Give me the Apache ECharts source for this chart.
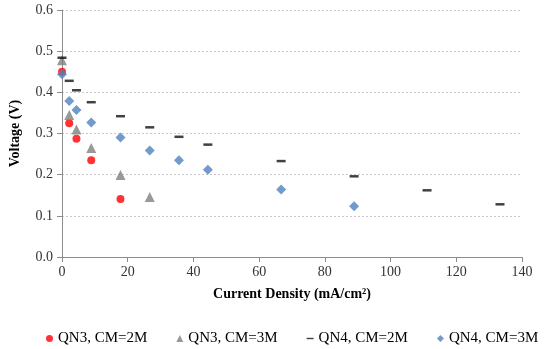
<!DOCTYPE html>
<html><head><meta charset="utf-8">
<script src="https://cdn.jsdelivr.net/npm/echarts@6/dist/echarts.min.js"></script>
<style>html,body{margin:0;padding:0;background:#fff}#c{width:550px;height:349px}</style>
</head><body><div id="c"></div>
<script>
const seriesNames = ['QN3, CM=2M', 'QN3, CM=3M', 'QN4, CM=2M', 'QN4, CM=3M'];
const qn3cm2x = [0, 2.2, 4.4, 8.9, 17.8];
const qn3cm2y = [0.450, 0.325, 0.287, 0.235, 0.141];
const qn3cm3x = [0, 2.2, 4.4, 8.9, 17.8, 26.7];
const qn3cm3y = [0.478, 0.345, 0.310, 0.265, 0.199, 0.146];
const qn4cm2x = [0, 2.2, 4.4, 8.9, 17.8, 26.7, 35.6, 44.4, 66.7, 88.9, 111.1, 133.3];
const qn4cm2y = [0.484, 0.428, 0.405, 0.376, 0.342, 0.315, 0.292, 0.273, 0.233, 0.196, 0.162, 0.128];
const qn4cm3x = [0, 2.2, 4.4, 8.9, 17.8, 26.7, 35.6, 44.4, 66.7, 88.9];
const qn4cm3y = [0.444, 0.379, 0.357, 0.327, 0.290, 0.259, 0.235, 0.212, 0.164, 0.123];
const xTicks = [0, 20, 40, 60, 80, 100, 120, 140];
const yTicks = [0, 0.1, 0.2, 0.3, 0.4, 0.5, 0.6];

function pts(xs, ys){ return xs.map((x,i)=>[x, ys[i]]); }
const font = 'Liberation Serif, Times New Roman, serif';
const chart = echarts.init(document.getElementById('c'));
chart.setOption({
  animation:false,
  grid:{left:60, right:28, top:10, bottom:92},
  legend:{
    bottom:-2, left:41, width:505, itemGap:29, itemWidth:7, itemHeight:7,
    textStyle:{fontFamily:font, fontSize:15, color:'#000'},
    data:[
      {name:seriesNames[0], icon:'circle'},
      {name:seriesNames[1], icon:'triangle'},
      {name:seriesNames[2], icon:'path://M0,0h10v2h-10z'},
      {name:seriesNames[3], icon:'diamond'}
    ]
  },
  xAxis:{
    type:'value', min:xTicks[0], max:xTicks[xTicks.length-1], interval:20,
    name:'Current Density (mA/cm²)', nameLocation:'middle', nameGap:30,
    nameTextStyle:{fontFamily:font, fontSize:14, fontWeight:'bold', color:'#000'},
    axisLine:{show:true, lineStyle:{color:'#8c8c8c'}},
    axisTick:{show:true, length:5, lineStyle:{color:'#8c8c8c'}},
    axisLabel:{fontFamily:font, fontSize:14, color:'#333', margin:8},
    splitLine:{show:false}
  },
  yAxis:{
    type:'value', min:yTicks[0], max:yTicks[yTicks.length-1], interval:0.1,
    name:'Voltage (V)', nameLocation:'middle', nameGap:40,
    nameTextStyle:{fontFamily:font, fontSize:14, fontWeight:'bold', color:'#000'},
    axisLine:{show:true, lineStyle:{color:'#8c8c8c'}},
    axisTick:{show:true, length:5, lineStyle:{color:'#8c8c8c'}},
    axisLabel:{fontFamily:font, fontSize:14, color:'#333', margin:9, formatter:v=>v.toFixed(1)},
    splitLine:{show:true, lineStyle:{color:'#c8c8c8', type:[2,2]}}
  },
  series:[
    {name:seriesNames[0], type:'scatter', symbol:'circle', symbolSize:8, data:pts(qn3cm2x,qn3cm2y), itemStyle:{color:'#ff0000'}, z:2},
    {name:seriesNames[1], type:'scatter', symbol:'triangle', symbolSize:10, data:pts(qn3cm3x,qn3cm3y), itemStyle:{color:'#808080'}, z:3},
    {name:seriesNames[2], type:'scatter', symbol:'rect', symbolSize:[9,2.5], data:pts(qn4cm2x,qn4cm2y), itemStyle:{color:'#111'}, z:4},
    {name:seriesNames[3], type:'scatter', symbol:'diamond', symbolSize:10, data:pts(qn4cm3x,qn4cm3y), itemStyle:{color:'#4f81bd'}, z:5}
  ]
});
</script></body></html>
